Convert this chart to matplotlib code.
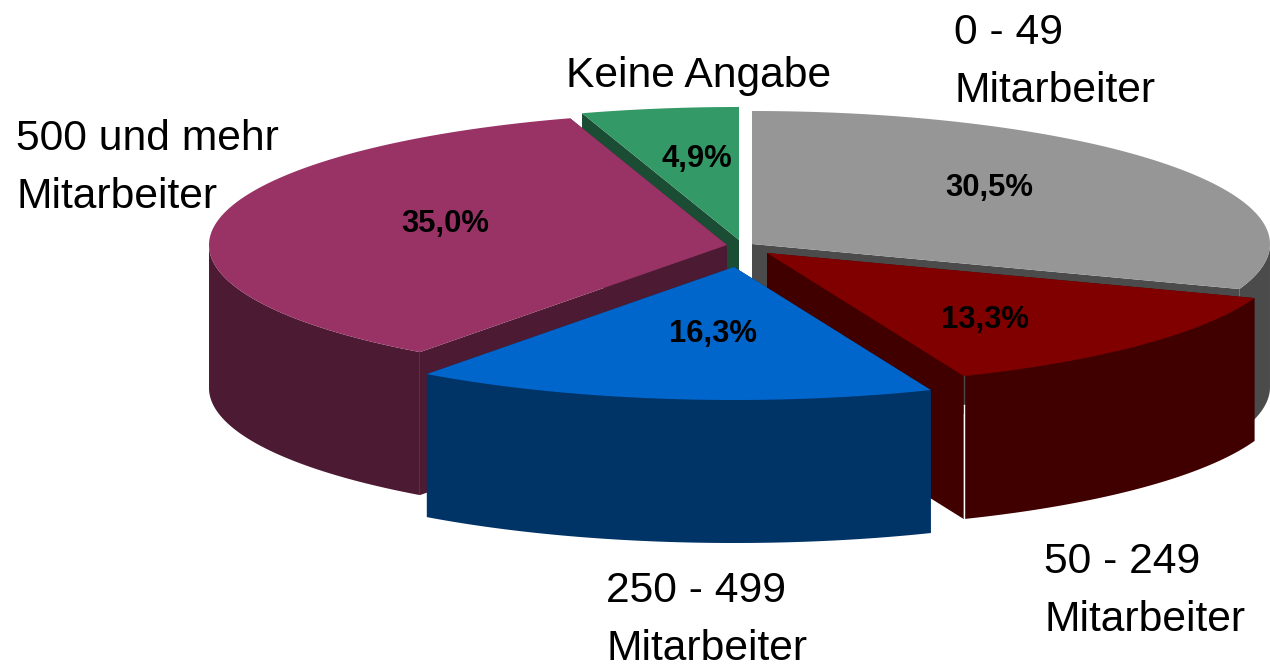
"""3D-look exploded pie of company sizes, drawn as projected slices."""

import matplotlib

matplotlib.use("Agg")
import matplotlib.pyplot as plt
import numpy as np
from matplotlib.patches import Polygon

categories = ["0 - 49\nMitarbeiter", "50 - 249\nMitarbeiter", "250 - 499\nMitarbeiter",
              "500 und mehr\nMitarbeiter", "Keine Angabe"]
shares = [30.5, 13.3, 16.3, 35.0, 4.9]

top_colors = ["#969696", "#800000", "#0066CC", "#993366", "#339966"]
side_colors = ["#4B4B4B", "#400000", "#003366", "#4D1A33", "#1A4D33"]

# apex of each exploded slice, pixels
apex = [(752, 244), (767, 253), (734, 267), (727, 245), (739, 240)]
label_pos = [(954, 62), (1044, 591), (606, 620), (16, 168), (566, 76)]
pct_pos = [(989, 188), (985, 320), (713, 334), (445, 224), (697, 159)]

RX, RY, DEPTH = 518, 133, 143
DRAW_ORDER = [4, 0, 3, 1, 2]

plt.rcParams["font.family"] = ["Liberation Sans", "DejaVu Sans"]

fig = plt.figure(figsize=(12.7, 6.66), dpi=100)
ax = fig.add_axes([0, 0, 1, 1])
ax.set_xlim(0, 1270)
ax.set_ylim(666, 0)
ax.axis("off")


def rim(i, t):
    cx, cy = apex[i]
    return np.column_stack([cx + RX * np.sin(t), cy - RY * np.cos(t)])


edges = np.radians(np.concatenate([[0], np.cumsum(shares)]) * 3.6)
down = np.array([0, DEPTH])

for i in DRAW_ORDER:
    t0, t1 = edges[i], edges[i + 1]
    # keep both cut edges and the arc in one sweep
    t = np.linspace(t0, t1, 200)
    arc = rim(i, t)
    tip = np.array(apex[i], dtype=float)
    z = DRAW_ORDER.index(i) * 3

    # cut faces
    for end in (arc[0], arc[-1]):
        ax.add_patch(Polygon([tip, end, end + down, tip + down], closed=True,
                             fc=side_colors[i], ec="none", zorder=z + 1))

    # outer wall, front half only
    front = np.cos(t) <= 0
    if front.any():
        wall = arc[front]
        ax.add_patch(Polygon(np.vstack([wall, (wall + down)[::-1]]), closed=True,
                             fc=side_colors[i], ec="none", zorder=z + 2))

    ax.add_patch(Polygon(np.vstack([tip, arc]), closed=True,
                         fc=top_colors[i], ec="none", zorder=z + 3))

# seam at the front corner of the red slice, gray wall showing through then white
corner = rim(1, edges[2])[0]
ax.plot([corner[0], corner[0]], [corner[1], corner[1] + 29], color="#4B4B4B", lw=1, zorder=25)
ax.plot([corner[0], corner[0]], [corner[1] + 29, corner[1] + DEPTH], color="white", lw=1, zorder=25)

for name, value, lp, pp in zip(categories, shares, label_pos, pct_pos):
    ax.text(lp[0], lp[1], name, fontsize=30.7, color="black", ha="left", va="center",
            linespacing=1.59, zorder=30)
    ax.text(pp[0], pp[1], f"{value:.1f}%".replace(".", ","), fontsize=22.3, fontweight="bold",
            color="black", ha="center", va="center", zorder=30)

fig.savefig("out.png", dpi=100)
plt.close(fig)
